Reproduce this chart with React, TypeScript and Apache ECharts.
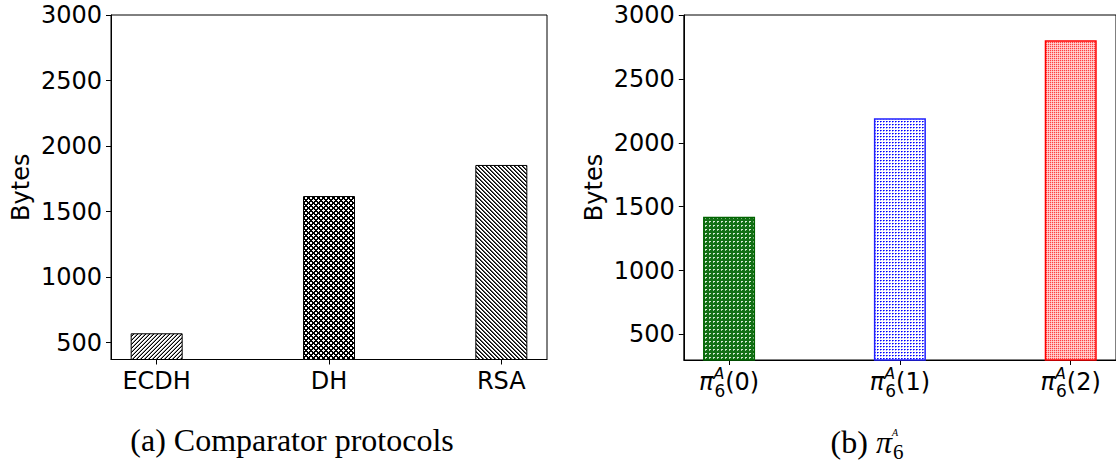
import React, { useEffect, useRef } from "react";
import * as echarts from "echarts";

const leftCategories = ["ECDH", "DH", "RSA"];
const leftValues = [572, 1619, 1856];
const rightCategories = ["0", "1", "2"];
const rightValues = [1421, 2191, 2802];
const yTicksLeft = [500, 1000, 1500, 2000, 2500, 3000];
const yTicksRight = [500, 1000, 1500, 2000, 2500, 3000];
const xPositions = [0, 1, 2];

const FONT = "DejaVu Sans";

function tile(w: number, h: number, draw: (ctx: CanvasRenderingContext2D) => void): string {
  const c = document.createElement("canvas");
  c.width = w;
  c.height = h;
  const ctx = c.getContext("2d")!;
  draw(ctx);
  return c.toDataURL();
}

function pixelTile(n: number, m: number, bg: string, fn: (x: number, y: number) => string | null) {
  return tile(n, m, (ctx) => {
    ctx.fillStyle = bg;
    ctx.fillRect(0, 0, n, m);
    for (let x = 0; x < n; x++)
      for (let y = 0; y < m; y++) {
        const col = fn(x, y);
        if (col) {
          ctx.fillStyle = col;
          ctx.fillRect(x, y, 1, 1);
        }
      }
  });
}

const mod = (a: number, n: number) => ((a % n) + n) % n;

export default function App() {
  const ref = useRef<HTMLDivElement>(null);
  useEffect(() => {
    if (!ref.current) return;
    const chart = echarts.init(ref.current, undefined, { renderer: "svg" });

    const ecdhPat = pixelTile(4, 4, "#ffffff", (x, y) =>
      mod(x + y, 4) === 3 ? "#000000" : mod(x + y, 4) === 2 ? "#999999" : null
    );
    const dhPat = pixelTile(5, 5, "#ffffff", (x, y) =>
      mod(x + y, 5) < 2 || mod(x - y, 5) < 2 ? "#000000" : null
    );
    const rsaPat = pixelTile(4, 4, "#ffffff", (x, y) =>
      mod(x - y, 4) === 0 ? "#000000" : mod(x - y, 4) === 1 ? "#555555" : null
    );
    const greenPat = pixelTile(4, 4, "#137016", (x, y) =>
      y === 1 && x >= 1 && x <= 2 ? "#d8ecd8" : y === 2 && x === 1 ? "#a8cfa8" : null
    );
    const bluePat = pixelTile(3, 3, "#ffffff", (x, y) =>
      x === 1 && y === 1 ? "#0000ff" : x === 2 && y === 1 ? "#5a5aff" : x === 1 && y === 2 ? "#a8a8ff" : null
    );
    const redPat = pixelTile(2, 2, "#ffb4b4", (x, y) =>
      x === 0 && y === 0 ? "#ff4040" : x === 1 && y === 1 ? "#ffd6d6" : null
    );

    const leftPatterns = [ecdhPat, dhPat, rsaPat];
    const rightPatterns = [greenPat, bluePat, redPat];
    const rightEdges = ["#006400", "#2020ff", "#ff0000"];

    const labelStyle = { fontFamily: FONT, fontSize: 24, color: "#000" };
    const axisLine = { show: true, onZero: false, lineStyle: { color: "#000", width: 1 } };
    const axisTick = { show: true, length: 5, lineStyle: { color: "#000", width: 1 } };

    const mathRich = {
      pi: { fontFamily: FONT, fontStyle: "italic", fontSize: 24, color: "#000", lineHeight: 34, align: "left", verticalAlign: "middle" },
      sup: { fontFamily: FONT, fontStyle: "italic", fontSize: 16, color: "#000", lineHeight: 17, width: 1, align: "left", verticalAlign: "top" },
      sub: { fontFamily: FONT, fontSize: 17, color: "#000", lineHeight: 17, align: "left", verticalAlign: "bottom" },
      t: { fontFamily: FONT, fontSize: 24, color: "#000", lineHeight: 34, align: "left", verticalAlign: "middle" },
    };

    const capRich = {
      t: { fontFamily: "Liberation Serif", fontSize: 32, color: "#000", lineHeight: 40, align: "left" },
      pi: { fontFamily: "Liberation Serif", fontStyle: "italic", fontSize: 32, color: "#000", lineHeight: 40, align: "left" },
      sup: { fontFamily: "Liberation Serif", fontStyle: "italic", fontSize: 10, color: "#000", lineHeight: 12, width: 1, align: "left", verticalAlign: "top", padding: [5, 0, 0, 0] },
      sub: { fontFamily: "Liberation Serif", fontSize: 21, color: "#000", lineHeight: 21, align: "left", verticalAlign: "bottom" },
    };

    const option: any = {
      animation: false,
      backgroundColor: "#ffffff",
      grid: [
        { left: 111, top: 15, width: 436, height: 344.5, show: true, borderColor: "#000", borderWidth: 1, backgroundColor: "transparent" },
        { left: 683.8, top: 15, width: 436, height: 345, show: true, borderColor: "#000", borderWidth: 1, backgroundColor: "transparent" },
      ],
      xAxis: [
        {
          type: "value",
          gridIndex: 0,
          min: -0.265,
          max: 2.265,
          splitLine: { show: false },
          axisLine,
          axisTick: { ...axisTick, customValues: xPositions },
          axisLabel: {
            ...labelStyle,
            margin: 9,
            customValues: xPositions,
            formatter: (v: number) => leftCategories[Math.round(v)] ?? "",
          },
        },
        {
          type: "value",
          gridIndex: 1,
          min: -0.265,
          max: 2.265,
          splitLine: { show: false },
          axisLine,
          axisTick: { ...axisTick, customValues: xPositions },
          axisLabel: {
            margin: 5,
            customValues: xPositions,
            formatter: (v: number) => `{pi|π}{sup|A}{sub|6}{t|(${rightCategories[Math.round(v)] ?? ""})}`,
            rich: mathRich,
          },
        },
      ],
      yAxis: [
        {
          type: "value",
          gridIndex: 0,
          min: 372,
          max: 3000,
          splitLine: { show: false },
          axisLine,
          axisTick: { ...axisTick, customValues: yTicksLeft },
          axisLabel: { ...labelStyle, margin: 9, customValues: yTicksLeft, formatter: (v: number) => String(v) },
          name: "Bytes",
          nameLocation: "middle",
          nameGap: 78,
          nameTextStyle: { fontFamily: FONT, fontSize: 24, color: "#000" },
        },
        {
          type: "value",
          gridIndex: 1,
          min: 300,
          max: 3000,
          splitLine: { show: false },
          axisLine,
          axisTick: { ...axisTick, customValues: yTicksRight },
          axisLabel: { ...labelStyle, margin: 9, customValues: yTicksRight, formatter: (v: number) => String(v) },
          name: "Bytes",
          nameLocation: "middle",
          nameGap: 78,
          nameTextStyle: { fontFamily: FONT, fontSize: 24, color: "#000" },
        },
      ],
      series: [
        {
          type: "bar",
          xAxisIndex: 0,
          yAxisIndex: 0,
          barWidth: 52,
          data: leftValues.map((v, i) => ({
            value: [xPositions[i], v],
            itemStyle: {
              color: { image: leftPatterns[i], repeat: "repeat" },
              borderColor: "#000",
              borderWidth: 1,
            },
          })),
        },
        {
          type: "bar",
          xAxisIndex: 1,
          yAxisIndex: 1,
          barWidth: 52,
          data: rightValues.map((v, i) => ({
            value: [xPositions[i], v],
            itemStyle: {
              color: { image: rightPatterns[i], repeat: "repeat" },
              borderColor: rightEdges[i],
              borderWidth: 1.5,
            },
          })),
        },
      ],
      graphic: [
        {
          type: "text",
          x: 292,
          y: 440,
          style: {
            text: "{t|(a) Comparator protocols}",
            rich: capRich,
            align: "center",
            verticalAlign: "middle",
          },
        },
        {
          type: "text",
          x: 867,
          y: 442,
          style: {
            text: "{t|(b) }{pi|π}{sup|A}{sub|6}",
            rich: capRich,
            align: "center",
            verticalAlign: "middle",
          },
        },
      ],
    };
    chart.setOption(option);
    return () => chart.dispose();
  }, []);
  return (
    <div
      ref={ref}
      style={{ position: "fixed", left: 0, top: 0, width: 1116, height: 470, background: "#fff" }}
    />
  );
}
